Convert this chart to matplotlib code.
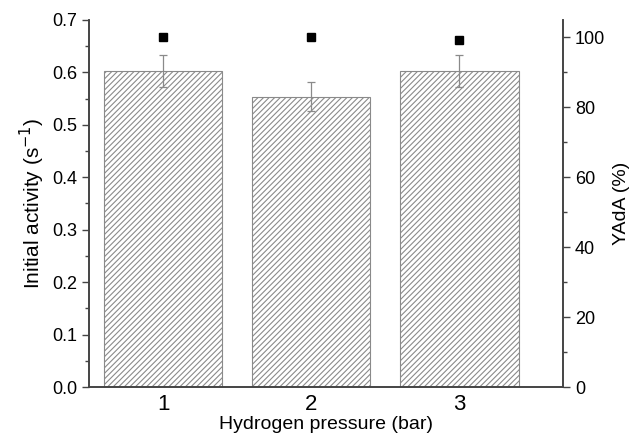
import matplotlib
matplotlib.use("Agg")
import matplotlib.pyplot as plt
from matplotlib.ticker import MultipleLocator

plt.rcParams['font.family'] = ['Liberation Sans', 'DejaVu Sans']
plt.rcParams['hatch.color'] = '#8a8a8a'
plt.rcParams['hatch.linewidth'] = 0.8

# data
pressure = [1, 2, 3]
activity = [0.603, 0.554, 0.603]
activity_err = [0.030, 0.027, 0.030]
yada = [100.0, 100.0, 99.3]

fig = plt.figure(figsize=(6.33, 4.44), dpi=100)
ax = fig.add_axes([89 / 633, 1 - 387 / 444, (563 - 89) / 633, (387 - 20) / 444])

ax.bar(pressure, activity, width=0.8, color='white', edgecolor='#8a8a8a',
       hatch='//////', linewidth=0.8, zorder=2)
ax.errorbar(pressure, activity, yerr=activity_err, fmt='none', ecolor='#8a8a8a',
            elinewidth=0.9, capsize=3, capthick=0.9, zorder=3)

ax.set_xlim(0.5, 3.7)
ax.set_ylim(0, 0.7)
ax.set_xticks(pressure)
ax.yaxis.set_major_locator(MultipleLocator(0.1))
ax.yaxis.set_minor_locator(MultipleLocator(0.05))
ax.set_yticklabels([f'{v:.1f}' for v in ax.get_yticks()])
ax.set_xlabel('Hydrogen pressure (bar)', fontsize=14, labelpad=1)
ax.set_ylabel('Initial activity (s$^{-1}$)', fontsize=15, labelpad=4)

ax2 = ax.twinx()
ax2.plot(pressure, yada, 's', color='black', markersize=6, zorder=4)
ax2.set_ylim(0, 104.9)
ax2.yaxis.set_major_locator(MultipleLocator(20))
ax2.yaxis.set_minor_locator(MultipleLocator(10))
ax2.set_ylabel('YAdA (%)', fontsize=14, labelpad=6)

spine_col = '#444444'
for a in (ax, ax2):
    a.spines['top'].set_visible(False)
    for s in ('left', 'right', 'bottom'):
        a.spines[s].set_color(spine_col)
        a.spines[s].set_linewidth(1.2)
    a.tick_params(which='major', direction='out', length=5, width=1, color=spine_col, labelsize=13)
    a.tick_params(which='minor', direction='out', length=3, width=1, color=spine_col)
ax.tick_params(axis='x', which='major', length=0, pad=5, labelsize=16)
ax.tick_params(axis='x', which='minor', length=0)

fig.savefig('out.png', dpi=100)
